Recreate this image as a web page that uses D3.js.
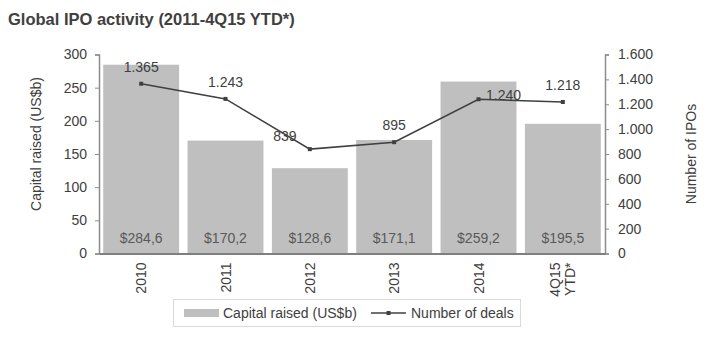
<!DOCTYPE html>
<html>
<head>
<meta charset="utf-8">
<script src="https://cdn.jsdelivr.net/npm/d3@7"></script>
<style>
  html, body { margin: 0; padding: 0; background: #ffffff; }
  svg { display: block; font-family: "Liberation Sans", Arial, sans-serif; }
</style>
</head>
<body>
<svg id="chart" width="720" height="340"></svg>
<script>
// Global IPO activity: capital raised (bars, left axis) and number of deals (line, right axis)
const categories = ["2010", "2011", "2012", "2013", "2014", "4Q15\nYTD*"];
const capitalRaised = [284.6, 170.2, 128.6, 171.1, 259.2, 195.5];
const numberOfDeals = [1365, 1243, 839, 895, 1240, 1218];
const leftTicks = [0, 50, 100, 150, 200, 250, 300];
const rightTicks = [0, 200, 400, 600, 800, 1000, 1200, 1400, 1600];

const svg = d3.select("#chart");
const textColor = "#404040";
const axisColor = "#8c8c8c";
const barColor = "#bfbfbf";
const lineColor = "#404040";

const plot = { left: 99, right: 605, top: 54.5, bottom: 253.5 };

// European number formatting: "." as thousands separator, "," as decimal mark
const euro = d3.formatLocale({ decimal: ",", thousands: ".", grouping: [3], currency: ["$", ""] });
const fmtCount = euro.format(",d");
const fmtMoney = euro.format("$.1f");

const x = d3.scaleBand()
  .domain(categories)
  .range([plot.left, plot.right])
  .paddingInner(0.1)
  .paddingOuter(0.05);

const yLeft = d3.scaleLinear().domain([0, 300]).range([plot.bottom, plot.top]);
const yRight = d3.scaleLinear().domain([0, 1600]).range([plot.bottom, plot.top]);

// Title
svg.append("text")
  .attr("x", 8).attr("y", 25)
  .attr("fill", textColor)
  .attr("font-size", 16.5).attr("font-weight", "bold")
  .text("Global IPO activity (2011-4Q15 YTD*)");

// Bars
svg.append("g").selectAll("rect")
  .data(capitalRaised)
  .join("rect")
  .attr("x", (d, i) => x(categories[i]))
  .attr("width", x.bandwidth())
  .attr("y", d => yLeft(d))
  .attr("height", d => yLeft(0) - yLeft(d))
  .attr("fill", barColor);

// Bar value labels near the base
svg.append("g").selectAll("text")
  .data(capitalRaised)
  .join("text")
  .attr("x", (d, i) => x(categories[i]) + x.bandwidth() / 2)
  .attr("y", plot.bottom - 11)
  .attr("text-anchor", "middle")
  .attr("font-size", 14)
  .attr("fill", "#595959")
  .text(d => fmtMoney(d));

// Left axis
const gLeft = svg.append("g")
  .attr("transform", `translate(${plot.left},0)`)
  .call(d3.axisLeft(yLeft).tickValues(leftTicks).tickSize(4).tickPadding(8).tickFormat(d3.format("d")));
gLeft.select(".domain").attr("stroke", axisColor).attr("stroke-width", 1.5);
gLeft.selectAll(".tick line").attr("stroke", axisColor);
gLeft.selectAll(".tick text").attr("fill", textColor).attr("font-size", 14)
  .attr("font-family", "Liberation Sans, Arial, sans-serif");

// Right axis
const gRight = svg.append("g")
  .attr("transform", `translate(${plot.right},0)`)
  .call(d3.axisRight(yRight).tickValues(rightTicks).tickSize(4).tickPadding(9).tickFormat(fmtCount));
gRight.select(".domain").attr("stroke", axisColor).attr("stroke-width", 1.5);
gRight.selectAll(".tick line").attr("stroke", axisColor);
gRight.selectAll(".tick text").attr("fill", textColor).attr("font-size", 14)
  .attr("font-family", "Liberation Sans, Arial, sans-serif");

// Bottom axis with rotated category labels
const gBottom = svg.append("g")
  .attr("transform", `translate(0,${plot.bottom})`)
  .call(d3.axisBottom(x).tickSize(0).tickFormat(""));
gBottom.select(".domain").attr("stroke", "#7f7f7f").attr("stroke-width", 2);
gBottom.selectAll(".tick").each(function (d) {
  const lines = d.split("\n");
  const t = d3.select(this).append("text")
    .attr("transform", "rotate(-90)")
    .attr("text-anchor", "end")
    .attr("fill", textColor)
    .attr("font-size", 14);
  lines.forEach((ln, k) => {
    t.append("tspan")
      .attr("x", -9)
      .attr("y", (k - (lines.length - 1) / 2) * 15 + 5)
      .text(ln);
  });
});

// Number-of-deals line
const cx = (d, i) => x(categories[i]) + x.bandwidth() / 2;
const line = d3.line().x(cx).y(d => yRight(d));
svg.append("path")
  .datum(numberOfDeals)
  .attr("d", line)
  .attr("fill", "none")
  .attr("stroke", lineColor)
  .attr("stroke-width", 1.6);
svg.append("g").selectAll("rect")
  .data(numberOfDeals)
  .join("rect")
  .attr("x", (d, i) => cx(d, i) - 2)
  .attr("y", d => yRight(d) - 2)
  .attr("width", 4).attr("height", 4)
  .attr("fill", lineColor);

// Deal count labels; a few are nudged sideways to clear the line
const nudge = { 2: [-25, 4], 4: [25, 13] };
svg.append("g").selectAll("text")
  .data(numberOfDeals)
  .join("text")
  .attr("x", (d, i) => cx(d, i) + (nudge[i] ? nudge[i][0] : 0))
  .attr("y", (d, i) => yRight(d) - 12 + (nudge[i] ? nudge[i][1] : 0))
  .attr("text-anchor", "middle")
  .attr("font-size", 14)
  .attr("fill", textColor)
  .text(d => fmtCount(d));

// Axis titles
svg.append("text")
  .attr("transform", `translate(41,${(plot.top + plot.bottom) / 2 - 10}) rotate(-90)`)
  .attr("text-anchor", "middle")
  .attr("font-size", 14)
  .attr("fill", textColor)
  .text("Capital raised (US$b)");
svg.append("text")
  .attr("transform", `translate(696,${(plot.top + plot.bottom) / 2}) rotate(-90)`)
  .attr("text-anchor", "middle")
  .attr("font-size", 14)
  .attr("fill", textColor)
  .text("Number of IPOs");

// Legend
const legend = svg.append("g");
legend.append("rect")
  .attr("x", 173.5).attr("y", 299.5).attr("width", 347).attr("height", 27)
  .attr("fill", "#ffffff").attr("stroke", "#d9d9d9");
legend.append("rect")
  .attr("x", 184).attr("y", 309).attr("width", 35).attr("height", 8)
  .attr("fill", barColor);
legend.append("text")
  .attr("x", 223).attr("y", 318)
  .attr("font-size", 14).attr("fill", textColor)
  .text("Capital raised (US$b)");
legend.append("line")
  .attr("x1", 371).attr("x2", 406).attr("y1", 313).attr("y2", 313)
  .attr("stroke", lineColor).attr("stroke-width", 1.6);
legend.append("rect")
  .attr("x", 386.5).attr("y", 311).attr("width", 4).attr("height", 4)
  .attr("fill", lineColor);
legend.append("text")
  .attr("x", 411).attr("y", 318)
  .attr("font-size", 14).attr("fill", textColor)
  .text("Number of deals");
</script>
</body>
</html>
